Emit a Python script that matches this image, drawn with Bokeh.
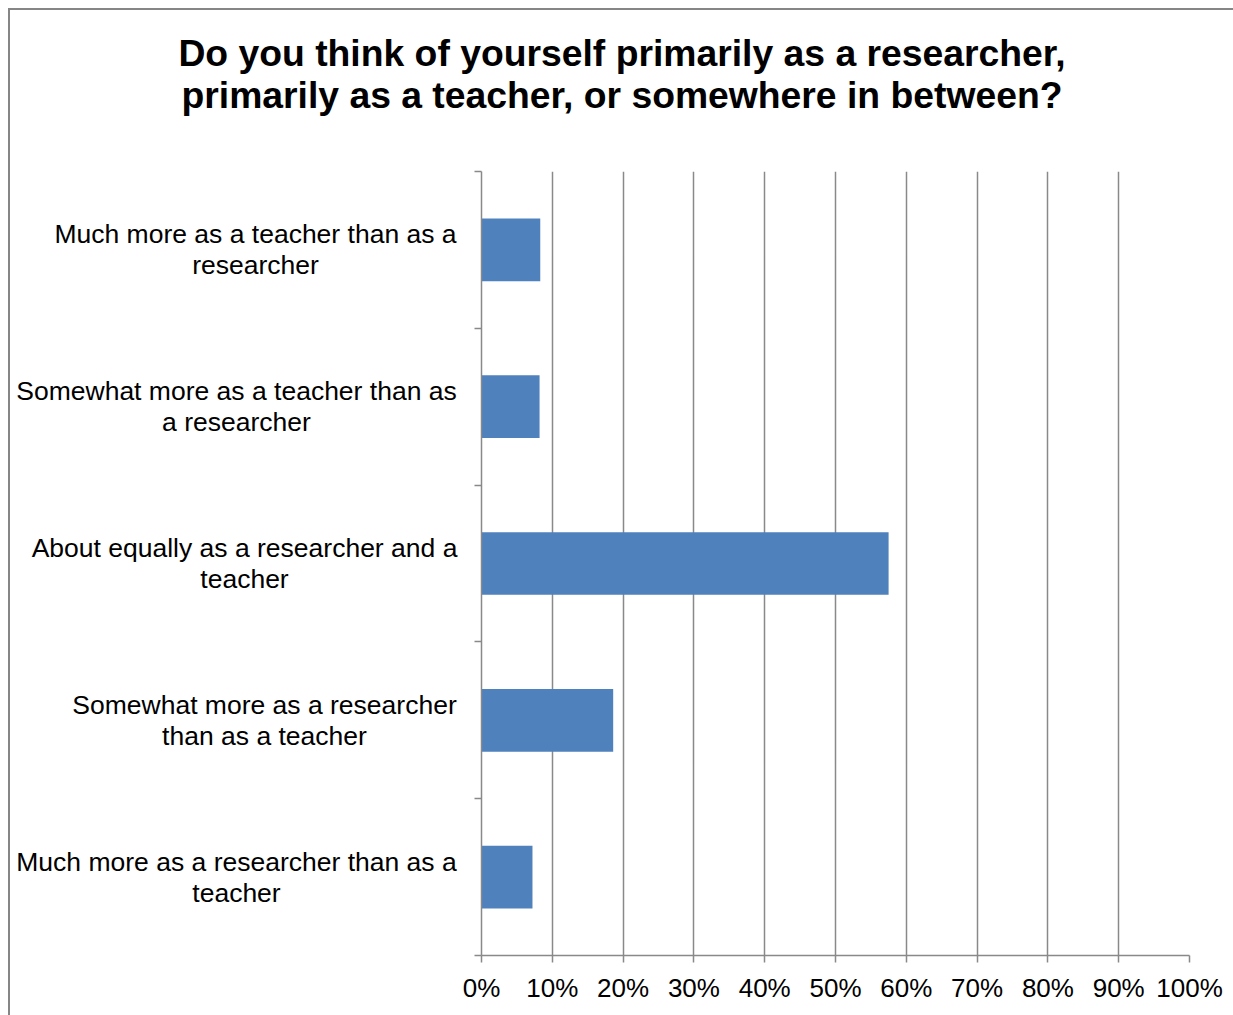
from bokeh.plotting import figure
from bokeh.models import Range1d, FixedTicker
from bokeh.layouts import column, row
from bokeh.core.properties import value
from bokeh.embed import file_html
from bokeh.resources import INLINE

# ---- data ----
categories = [
    "Much more as a teacher than as a\nresearcher",
    "Somewhat more as a teacher than as\na researcher",
    "About equally as a researcher and a\nteacher",
    "Somewhat more as a researcher\nthan as a teacher",
    "Much more as a researcher than as a\nteacher",
]
values = [8.3, 8.2, 57.5, 18.6, 7.2]  # percent
x_ticks = [0, 10, 20, 30, 40, 50, 60, 70, 80, 90, 100]
x_tick_labels = ["0%", "10%", "20%", "30%", "40%", "50%", "60%", "70%", "80%", "90%", "100%"]
title_text = "Do you think of yourself primarily as a researcher,\nprimarily as a teacher, or somewhere in between?"

# layout-only: horizontal centres (px within the label panel) of the wrapped labels
label_centres = [245, 226, 234, 254, 226]

FONT = "Liberation Sans"
GRID = "#898989"
TOTAL_W, TOTAL_H = 1223, 1005
TITLE_H = 130
LABEL_W = 451

n = len(categories)
ys = [i + 0.5 for i in range(n)]
shared_y = Range1d(n, 0)


def bare(fig):
    fig.outline_line_color = None
    fig.background_fill_color = "white"
    fig.border_fill_color = "white"
    fig.xgrid.visible = False
    fig.ygrid.visible = False
    return fig


# ---- title panel ----
t = bare(figure(width=TOTAL_W, height=TITLE_H, x_range=Range1d(0, TOTAL_W), y_range=Range1d(TITLE_H, 0),
                x_axis_type=None, y_axis_type=None, output_backend="svg", toolbar_location=None,
                min_border=0))
t.text(x=[TOTAL_W / 2], y=[63], text=[title_text], text_align="center", text_baseline="middle",
       text_font=value(FONT), text_font_size=value("37.3px"), text_font_style="bold",
       text_color="black", text_line_height=1.0)

# ---- category label panel ----
lab = bare(figure(width=LABEL_W, height=TOTAL_H - TITLE_H, x_range=Range1d(0, LABEL_W), y_range=shared_y,
                  x_axis_type=None, y_axis_type=None, output_backend="svg", toolbar_location=None,
                  min_border_left=0, min_border_right=0, min_border_top=161 - TITLE_H, min_border_bottom=60))
lab.text(x=label_centres, y=ys, text=categories, text_align="center", text_baseline="middle",
         text_font=value(FONT), text_font_size=value("26.5px"), text_color="black",
         text_line_height=1.03)

# ---- main bar chart ----
p = bare(figure(width=TOTAL_W - LABEL_W, height=TOTAL_H - TITLE_H,
                x_range=Range1d(0, 100), y_range=shared_y,
                output_backend="svg", toolbar_location=None,
                min_border_left=20, min_border_right=44,
                min_border_top=161 - TITLE_H, min_border_bottom=60))
p.hbar(y=ys, right=values, left=0, height=0.4, color="#4F81BD", line_color=None)

p.xaxis.ticker = FixedTicker(ticks=x_ticks)
p.xaxis.major_label_overrides = {t_: l for t_, l in zip(x_ticks, x_tick_labels)}
p.xaxis.major_label_text_font = FONT
p.xaxis.major_label_text_font_size = "26px"
p.xaxis.major_label_text_color = "black"
p.xaxis.major_label_standoff = 10
p.xaxis.axis_line_color = GRID
p.xaxis.axis_line_width = 1.5
p.xaxis.major_tick_line_color = GRID
p.xaxis.major_tick_line_width = 1.5
p.xaxis.major_tick_out = 7
p.xaxis.major_tick_in = 0
p.xaxis.minor_tick_line_color = None

bounds = list(range(n + 1))
p.yaxis.ticker = FixedTicker(ticks=bounds)
p.yaxis.major_label_overrides = {b: "" for b in bounds}
p.yaxis.major_label_standoff = 0
p.yaxis.axis_line_color = GRID
p.yaxis.axis_line_width = 1.5
p.yaxis.major_tick_line_color = GRID
p.yaxis.major_tick_line_width = 1.5
p.yaxis.major_tick_out = 7
p.yaxis.major_tick_in = 0
p.yaxis.minor_tick_line_color = None

p.xgrid.visible = True
p.xgrid.ticker = FixedTicker(ticks=x_ticks)
p.xgrid.grid_line_color = GRID
p.xgrid.grid_line_width = 1.5

layout = column(t, row(lab, p, spacing=0), spacing=0,
                styles={"border-left": "2px solid #868686", "border-top": "2px solid #868686",
                        "margin-left": "8px", "margin-top": "8px"})

open("out.html", "w").write(file_html(layout, INLINE))
